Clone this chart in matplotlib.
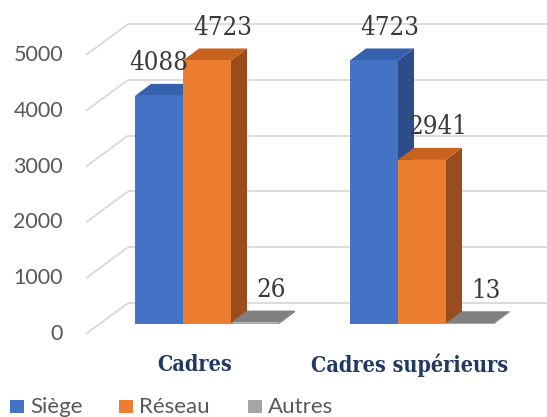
import matplotlib
matplotlib.use("Agg")
import matplotlib.pyplot as plt
from matplotlib.patches import Polygon, Rectangle

# ---- data ----
categories = ["Cadres", "Cadres supérieurs"]
series_names = ["Siège", "Réseau", "Autres"]
siege = [4088, 4723]
reseau = [4723, 2941]
autres = [26, 13]
y_ticks = [0, 1000, 2000, 3000, 4000, 5000]

series_values = [siege, reseau, autres]
front_colors = ["#4472C4", "#ED7D31", "#A5A5A5"]
top_colors = ["#3560AC", "#C8621F", "#808080"]
side_colors = ["#2C4D8A", "#9A4D1C", "#6E6E6E"]

# ---- layout (pixel based projection) ----
W, H = 547, 417
PX_PER_CAT = 215.0        # horizontal distance between category groups
CAT0_PX = 207.0           # x of first group centre
PX_PER_UNIT = 0.0558      # vertical pixels per value unit
BASE_PX = 324.0           # y (from top) of bar front base

def dxp(px):
    return px / PX_PER_CAT

def dyp(px):
    return px / PX_PER_UNIT

def xpx(px):
    return (px - CAT0_PX) / PX_PER_CAT

BAR_W = dxp(48)
DEPTH_X, DEPTH_Y = dxp(16), dyp(12)         # bar depth projection
FLOOR_FRONT_X, FLOOR_BACK_X = xpx(86), xpx(128)
FLOOR_FRONT_DY, FLOOR_BACK_DY = dyp(-10), dyp(21)

fig = plt.figure(figsize=(W / 100, H / 100), dpi=100)
ax = fig.add_axes([0, 0, 1, 1])
ax.set_xlim(xpx(0), xpx(W))
ax.set_ylim((BASE_PX - H) / PX_PER_UNIT, BASE_PX / PX_PER_UNIT)
ax.axis("off")

grid_c = "#D9D9D9"
tick_font = "Lato"

# gridlines: side wall diagonals + back wall horizontals
for v in y_ticks:
    ax.plot([FLOOR_FRONT_X, FLOOR_BACK_X], [v + FLOOR_FRONT_DY, v + FLOOR_BACK_DY],
            color=grid_c, lw=1.3, zorder=1, solid_capstyle="butt")
    ax.plot([FLOOR_BACK_X, xpx(W + 5)], [v + FLOOR_BACK_DY, v + FLOOR_BACK_DY],
            color=grid_c, lw=1.3, zorder=1, solid_capstyle="butt")
    ax.text(xpx(63), v + FLOOR_FRONT_DY, f"{v}", ha="right", va="center",
            fontsize=15.5, color="#595959", family=tick_font)

# bars with top and side faces
label_nudge = {(0, 0): -16}
for i, vals in enumerate(series_values):
    for c, v in enumerate(vals):
        xc = c + (i - 1) * BAR_W
        xl, xr = xc - BAR_W / 2, xc + BAR_W / 2
        z = 3 + i * 3
        side = Polygon([(xr, 0), (xr, v), (xr + DEPTH_X, v + DEPTH_Y), (xr + DEPTH_X, DEPTH_Y)],
                       closed=True, facecolor=side_colors[i], edgecolor="none", zorder=z)
        top = Polygon([(xl, v), (xr, v), (xr + DEPTH_X, v + DEPTH_Y), (xl + DEPTH_X, v + DEPTH_Y)],
                      closed=True, facecolor=top_colors[i], edgecolor="none", zorder=z + 1)
        ax.add_patch(side)
        ax.add_patch(top)
        ax.bar(xc, v, BAR_W, color=front_colors[i], zorder=z + 2, linewidth=0)
        lx = xc + DEPTH_X + dxp(label_nudge.get((i, c), 0))
        ax.text(lx, v + dyp(33), f"{v}", ha="center", va="center",
                fontsize=18.5, color="#3A3A3A", family="DejaVu Serif",
                fontstretch="condensed", zorder=20)

# category labels
for c, name in enumerate(categories):
    ax.text(c + dxp(-12), (BASE_PX - 365) / PX_PER_UNIT, name, ha="center", va="center",
            fontsize=15.5, color="#1F3864", family="DejaVu Serif", fontweight="bold",
            fontstretch="condensed")

# legend
legend_x = [10, 119, 248]
for name, col, lx in zip(series_names, front_colors, legend_x):
    fig.patches.append(Rectangle((lx / W, 1 - 413 / H), 14 / W, 13 / H,
                                 transform=fig.transFigure, facecolor=col, edgecolor="none"))
    fig.text((lx + 20) / W, 1 - 407 / H, name, ha="left", va="center",
             fontsize=16, color="#595959", family=tick_font)

fig.savefig("out.png", dpi=100)
